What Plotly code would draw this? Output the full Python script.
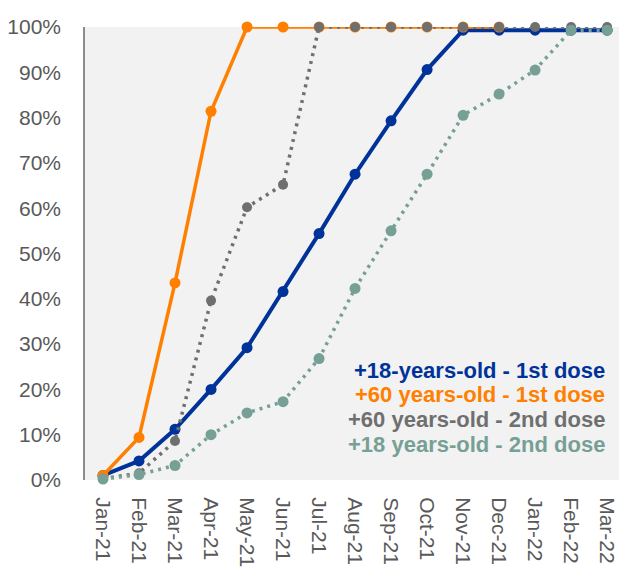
import plotly.graph_objects as go

months = ["Jan-21", "Feb-21", "Mar-21", "Apr-21", "May-21", "Jun-21", "Jul-21",
          "Aug-21", "Sep-21", "Oct-21", "Nov-21", "Dec-21", "Jan-22", "Feb-22", "Mar-22"]

adult_1st = [1.0, 4.2, 11.2, 20.0, 29.2, 41.6, 54.4, 67.5, 79.3, 90.6, 99.3, 99.3, 99.3, 99.3, 99.3]
senior_1st = [1.0, 9.4, 43.5, 81.4, 100, 100, 100, 100, 100, 100, 100, 100]
senior_2nd = [0.3, 1.5, 8.6, 39.6, 60.2, 65.2, 100, 100, 100, 100, 100, 100, 100, 100, 100]
adult_2nd = [0.2, 1.2, 3.2, 10.0, 14.8, 17.3, 26.8, 42.3, 55.0, 67.5, 80.5, 85.2, 90.5, 99.3, 99.3]

names = ["+18-years-old - 1st dose", "+60 years-old - 1st dose",
         "+60 years-old - 2nd dose", "+18 years-old - 2nd dose"]
colors = ["#003399", "#FF7F00", "#6F6F6F", "#76A095"]

fig = go.Figure()
fig.add_trace(go.Scatter(x=months, y=adult_1st, mode="lines+markers", name=names[0],
                         line=dict(color=colors[0], width=4),
                         marker=dict(size=11, color=colors[0]), cliponaxis=False))
fig.add_trace(go.Scatter(x=months[:len(senior_1st)], y=senior_1st, mode="lines+markers", name=names[1],
                         line=dict(color=colors[1], width=3.5),
                         marker=dict(size=11, color=colors[1]), cliponaxis=False))
fig.add_trace(go.Scatter(x=months, y=senior_2nd, mode="lines+markers", name=names[2],
                         line=dict(color=colors[2], width=3.5, dash="3px,5px"),
                         marker=dict(size=10, color=colors[2]), cliponaxis=False))
fig.add_trace(go.Scatter(x=months, y=adult_2nd, mode="lines+markers", name=names[3],
                         line=dict(color=colors[3], width=3.5, dash="3px,5px"),
                         marker=dict(size=11, color=colors[3]), cliponaxis=False))

legend_y = [0.242, 0.188, 0.133, 0.079]
for n, c, yy in zip(names, colors, legend_y):
    fig.add_annotation(xref="paper", yref="paper", x=0.978, y=yy,
                       xanchor="right", yanchor="middle", showarrow=False,
                       text="<b>" + n + "</b>",
                       font=dict(family="Liberation Sans, Arial", size=22, color=c))

fig.update_layout(
    width=619, height=567,
    margin=dict(l=85, r=0, t=27, b=85),
    paper_bgcolor="white", plot_bgcolor="#F2F2F2",
    showlegend=False,
    font=dict(family="Liberation Sans, Arial", size=21, color="#595959"),
)
fig.update_xaxes(type="category", range=[-0.5, 14.33], showgrid=False, zeroline=False,
                 showline=False, tickangle=90, ticks="outside", ticklen=12,
                 tickcolor="rgba(0,0,0,0)", tickfont=dict(size=21, color="#595959"))
fig.update_yaxes(range=[0, 100], dtick=10, ticksuffix="%", showgrid=False, zeroline=False,
                 showline=True, linecolor="#8C8C8C", linewidth=1.5,
                 ticks="outside", ticklen=18, tickcolor="rgba(0,0,0,0)",
                 tickfont=dict(size=21, color="#595959"))

fig.write_html("out.html", config={"displayModeBar": False},
               post_script="document.body.style.margin='0';document.body.style.overflow='hidden';")
